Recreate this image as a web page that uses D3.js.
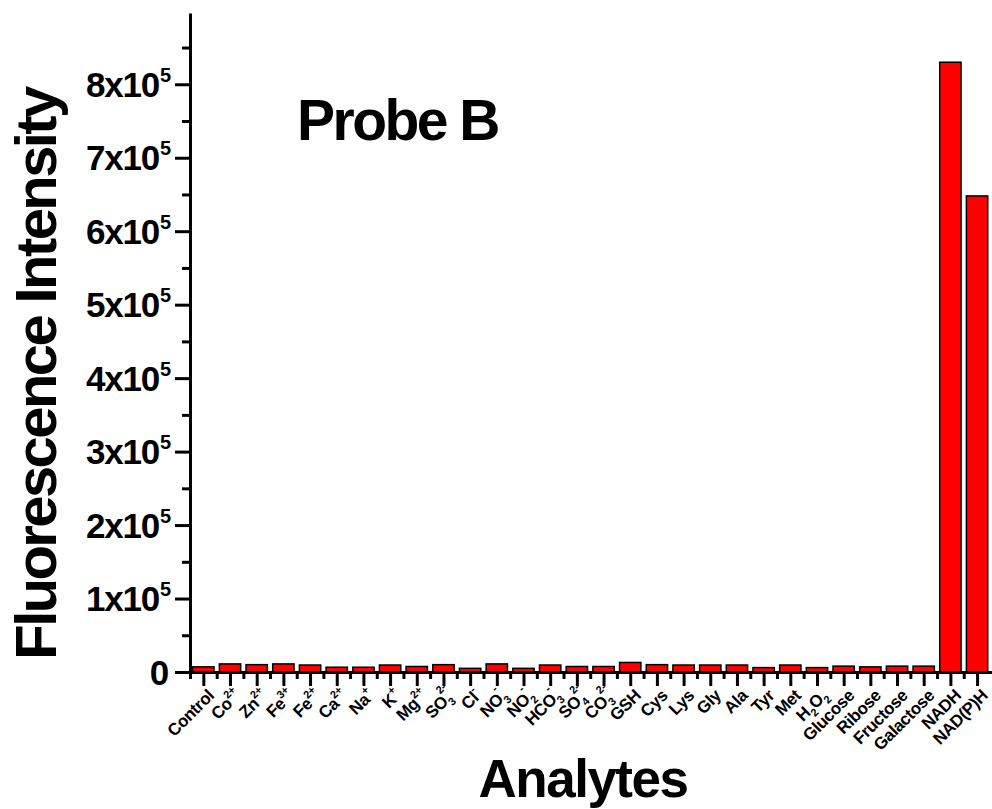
<!DOCTYPE html>
<html>
<head>
<meta charset="utf-8">
<script src="https://cdn.jsdelivr.net/npm/d3@7/dist/d3.min.js"></script>
<style>
  body { margin: 0; background: #fff; }
  svg text { font-family: "Liberation Sans", Arial, sans-serif; font-weight: bold; fill: #000; }
</style>
</head>
<body>
<svg id="chart"></svg>
<script>
const categories = ["Control", "Co2+", "Zn2+", "Fe3+", "Fe2+", "Ca2+", "Na+", "K+", "Mg2+", "SO3 2-",
  "Cl-", "NO3-", "NO2-", "HCO3-", "SO4 2-", "CO3 2-", "GSH", "Cys", "Lys", "Gly",
  "Ala", "Tyr", "Met", "H2O2", "Glucose", "Ribose", "Fructose", "Galactose", "NADH", "NAD(P)H"];

const intensity = [7000, 11000, 10000, 11000, 9500, 6500, 6500, 9500, 7500, 10000,
  5000, 11000, 5000, 9500, 7500, 7500, 13000, 10000, 9500, 9500,
  9500, 6000, 9500, 6000, 8000, 7000, 8000, 8000, 830000, 648000];

// label pieces: [text, "n" | "sub" | "sup" | "stack"(sup stacked over previous sub)]
const tickLabels = [
  [["Control", "n"]],
  [["Co", "n"], ["2+", "sup"]],
  [["Zn", "n"], ["2+", "sup"]],
  [["Fe", "n"], ["3+", "sup"]],
  [["Fe", "n"], ["2+", "sup"]],
  [["Ca", "n"], ["2+", "sup"]],
  [["Na", "n"], ["+", "sup"]],
  [["K", "n"], ["+", "sup"]],
  [["Mg", "n"], ["2+", "sup"]],
  [["SO", "n"], ["3", "sub"], ["2-", "stack"]],
  [["Cl", "n"], ["-", "sup"]],
  [["NO", "n"], ["3", "sub"], ["-", "stack"]],
  [["NO", "n"], ["2", "sub"], ["-", "stack"]],
  [["HCO", "n"], ["3", "sub"], ["-", "stack"]],
  [["SO", "n"], ["4", "sub"], ["2-", "stack"]],
  [["CO", "n"], ["3", "sub"], ["2-", "stack"]],
  [["GSH", "n"]],
  [["Cys", "n"]],
  [["Lys", "n"]],
  [["Gly", "n"]],
  [["Ala", "n"]],
  [["Tyr", "n"]],
  [["Met", "n"]],
  [["H", "n"], ["2", "sub"], ["O", "back"], ["2", "sub"]],
  [["Glucose", "n"]],
  [["Ribose", "n"]],
  [["Fructose", "n"]],
  [["Galactose", "n"]],
  [["NADH", "n"]],
  [["NAD(P)H", "n"]]
];

const yMajor = [0, 100000, 200000, 300000, 400000, 500000, 600000, 700000, 800000];
const yMinor = [50000, 150000, 250000, 350000, 450000, 550000, 650000, 750000, 850000];

const width = 992, height = 809;
const svg = d3.select("#chart").attr("width", width).attr("height", height);

const x = d3.scaleBand()
  .domain(categories)
  .range([190, 990.4])
  .paddingInner(0.2)
  .paddingOuter(0.1);

const y = d3.scaleLinear()
  .domain([0, 897000])
  .range([672, 13]);

// bars
svg.append("g")
  .selectAll("rect")
  .data(categories)
  .enter().append("rect")
  .attr("x", d => x(d))
  .attr("y", (d, i) => y(intensity[i]))
  .attr("width", x.bandwidth())
  .attr("height", (d, i) => y(0) - y(intensity[i]))
  .attr("fill", "#ff0000")
  .attr("stroke", "#000")
  .attr("stroke-width", 1.5);

// x axis: long ticks at bar centres, short ones between
const step = x.step();
const xc = d3.scaleLinear().domain([190, 992]).range([190, 992]);
const centres = categories.map(c => x(c) + x.bandwidth() / 2);
const between = centres.map(c => c - step / 2);

svg.append("g")
  .attr("transform", `translate(0,${y(0)})`)
  .call(d3.axisBottom(xc).tickValues(between).tickSize(7).tickSizeOuter(0).tickFormat(""))
  .call(g => g.selectAll("line").attr("stroke-width", 3));

const xAxis = svg.append("g")
  .attr("transform", `translate(0,${y(0)})`)
  .call(d3.axisBottom(xc).tickValues(centres).tickSize(14).tickSizeOuter(0).tickFormat(""));
xAxis.selectAll("line").attr("stroke-width", 3);
xAxis.select(".domain").attr("stroke-width", 3);

// x tick labels
const labels = svg.append("g");
categories.forEach((c, i) => {
  const t = labels.append("text")
    .attr("transform", `translate(${centres[i] + 3},${688}) rotate(-45)`)
    .attr("text-anchor", "end")
    .attr("font-size", 17)
    .attr("letter-spacing", -0.4)
    .attr("dy", "0.72em");
  let shift = 0;
  tickLabels[i].forEach(([s, k]) => {
    const sp = t.append("tspan").text(s);
    if (k === "sup") {
      sp.attr("font-size", 11).attr("dy", -8 - shift); shift = -8;
    } else if (k === "sub") {
      sp.attr("font-size", 11).attr("dy", 5 - shift); shift = 5;
    } else if (k === "stack") {
      sp.attr("font-size", 11).attr("dx", -6).attr("dy", -12 - shift + 0); shift = -7;
    } else if (k === "back") {
      sp.attr("dy", -shift); shift = 0;
    } else if (shift !== 0) {
      sp.attr("dy", -shift); shift = 0;
    }
  });
});

// y axis
const yMinorAxis = svg.append("g")
  .attr("transform", "translate(190,0)")
  .call(d3.axisLeft(y).tickValues(yMinor).tickSize(8).tickSizeOuter(0).tickFormat(""));
yMinorAxis.selectAll("line").attr("stroke-width", 3);
yMinorAxis.select(".domain").remove();

const yAxis = svg.append("g")
  .attr("transform", "translate(190,0)")
  .call(d3.axisLeft(y).tickValues(yMajor).tickSize(15).tickSizeOuter(0).tickFormat(""));
yAxis.selectAll("line").attr("stroke-width", 3);
yAxis.select(".domain").attr("stroke-width", 3);

const yLabels = svg.append("g");
yMajor.forEach(v => {
  const t = yLabels.append("text")
    .attr("x", v === 0 ? 168 : 170)
    .attr("y", y(v))
    .attr("dy", "0.36em")
    .attr("text-anchor", "end")
    .attr("font-size", 35)
    .attr("letter-spacing", -1.2);
  if (v === 0) {
    t.text("0");
  } else {
    t.append("tspan").text(`${v / 100000}x10`);
    t.append("tspan").attr("font-size", 20).attr("dy", -15).attr("dx", 1).text("5");
  }
});

// titles
svg.append("text")
  .attr("transform", "translate(56,374) rotate(-90)")
  .attr("text-anchor", "middle")
  .attr("font-size", 58)
  .attr("letter-spacing", -2.6)
  .text("Fluorescence Intensity");

svg.append("text")
  .attr("x", 583)
  .attr("y", 797)
  .attr("text-anchor", "middle")
  .attr("font-size", 53)
  .attr("letter-spacing", -1.5)
  .text("Analytes");

svg.append("text")
  .attr("x", 297)
  .attr("y", 140)
  .attr("font-size", 57)
  .attr("letter-spacing", -2.5)
  .text("Probe B");
</script>
</body>
</html>
